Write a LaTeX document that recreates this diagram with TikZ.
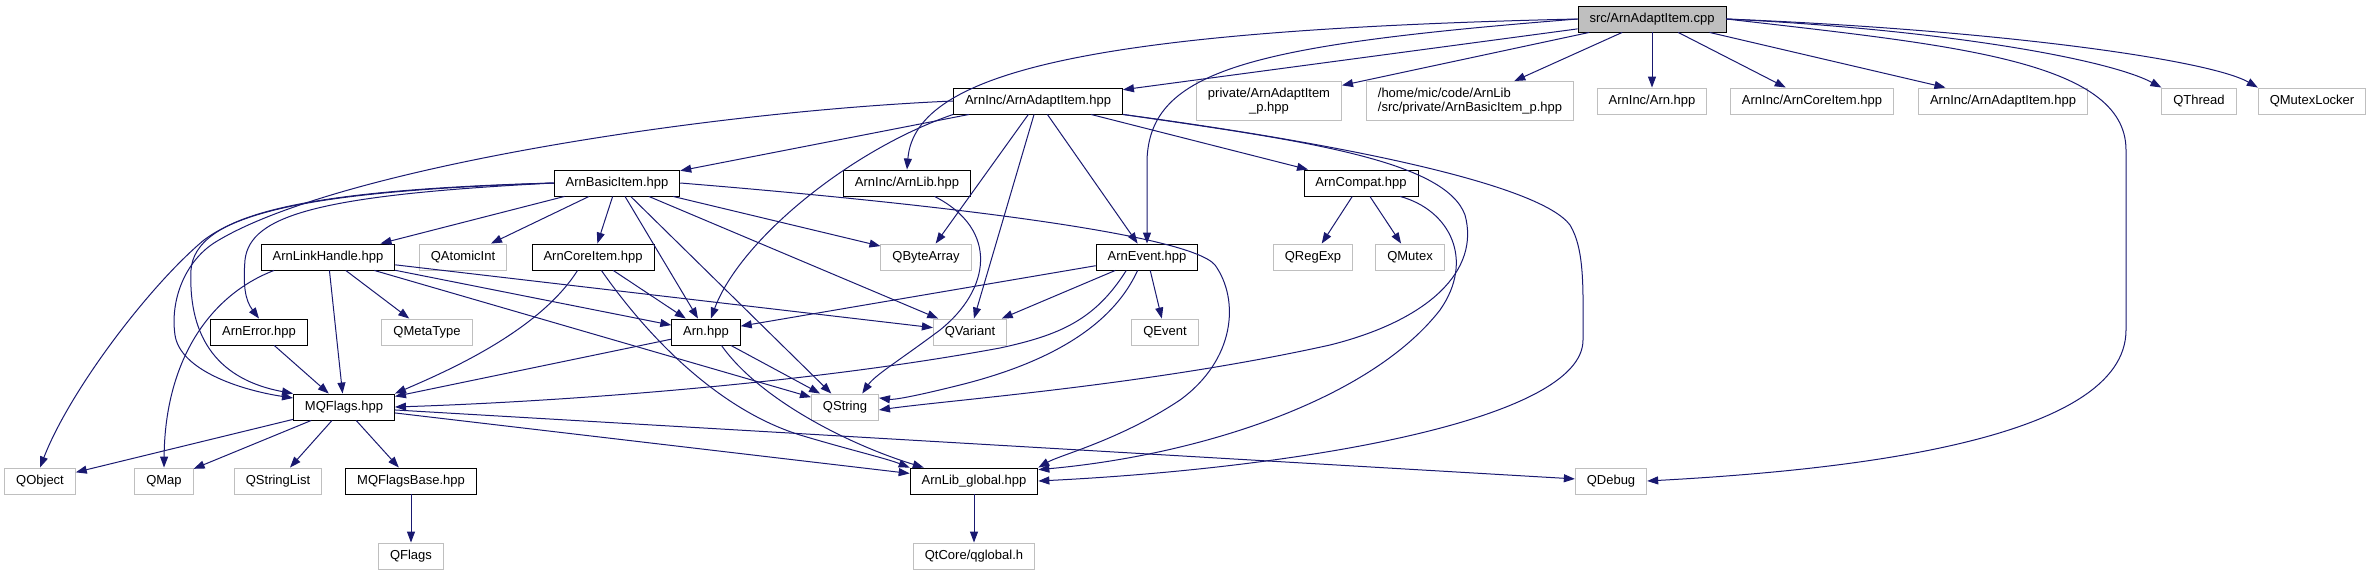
\documentclass[tikz,border=0pt]{standalone}
\usepackage{fontspec}
\setmainfont{Liberation Sans}
\usetikzlibrary{arrows.meta}
\definecolor{edgeblue}{HTML}{191970}
\definecolor{boxgray}{HTML}{BFBFBF}

\begin{document}
\begin{tikzpicture}[x=1pt,y=-1pt,>={Triangle[length=11pt,width=8pt]}]
  \tikzstyle{file}=[draw=black, line width=0.9pt, fill=white, minimum height=26pt, inner xsep=11.5pt, inner ysep=2pt, font=\fontsize{13}{14}\selectfont]
  \tikzstyle{ext}=[file, draw=boxgray]
  \tikzstyle{root}=[file, fill=boxgray]
  \tikzstyle{arrow}=[->, draw=edgeblue, line width=1pt]

  \useasboundingbox (0,0) rectangle (2371,575);

  \node[root] (cpp) at (1652,19) {src/ArnAdaptItem.cpp};

  \node[file] (adapt) at (1038,101) {ArnInc/ArnAdaptItem.hpp};
  \node[ext, align=center, minimum height=39pt] (privp) at (1269,101) {private/ArnAdaptItem\\\_p.hpp};
  \node[ext, align=left, minimum height=39pt] (homep) at (1470,101) {/home/mic/code/ArnLib\\/src/private/ArnBasicItem\_p.hpp};
  \node[ext] (incarn) at (1652,101) {ArnInc/Arn.hpp};
  \node[ext] (inccore) at (1812,101) {ArnInc/ArnCoreItem.hpp};
  \node[ext] (incadapt) at (2003,101) {ArnInc/ArnAdaptItem.hpp};
  \node[ext] (qthread) at (2199,101) {QThread};
  \node[ext] (qmutexlocker) at (2312,101) {QMutexLocker};

  \node[file] (basic) at (617,183) {ArnBasicItem.hpp};
  \node[file] (arnlib) at (907,183) {ArnInc/ArnLib.hpp};
  \node[file] (compat) at (1361,183) {ArnCompat.hpp};

  \node[file] (linkhandle) at (328,257) {ArnLinkHandle.hpp};
  \node[ext] (qatomicint) at (463,257) {QAtomicInt};
  \node[file] (coreitem) at (593,257) {ArnCoreItem.hpp};
  \node[ext] (qbytearray) at (926,257) {QByteArray};
  \node[file] (event) at (1147,257) {ArnEvent.hpp};
  \node[ext] (qregexp) at (1313,257) {QRegExp};
  \node[ext] (qmutex) at (1410,257) {QMutex};

  \node[file] (error) at (259,332) {ArnError.hpp};
  \node[ext] (qmetatype) at (427,332) {QMetaType};
  \node[file] (arn) at (706,332) {Arn.hpp};
  \node[ext] (qvariant) at (970,332) {QVariant};
  \node[ext] (qevent) at (1165,332) {QEvent};

  \node[file] (mqflags) at (344,407) {MQFlags.hpp};
  \node[ext] (qstring) at (845,407) {QString};

  \node[ext] (qobject) at (40,481) {QObject};
  \node[ext] (qmap) at (164,481) {QMap};
  \node[ext] (qstringlist) at (278,481) {QStringList};
  \node[file] (mqflagsbase) at (411,481) {MQFlagsBase.hpp};
  \node[file] (global) at (974,481) {ArnLib\_global.hpp};
  \node[ext] (qdebug) at (1611,481) {QDebug};

  \node[ext] (qflags) at (411,556) {QFlags};
  \node[ext] (qglobal) at (974,556) {QtCore/qglobal.h};

  \draw[arrow] (cpp) -- (adapt);
  \draw[arrow] (cpp) -- (privp);
  \draw[arrow] (cpp) -- (homep);
  \draw[arrow] (cpp) -- (incarn);
  \draw[arrow] (cpp) -- (inccore);
  \draw[arrow] (cpp) -- (incadapt);
  \draw[arrow] (cpp.east) .. controls (1950,30) and (2110,60) .. (qthread.north west);
  \draw[arrow] (cpp.east) .. controls (2000,30) and (2210,60) .. (qmutexlocker.north west);
  \draw[arrow] (cpp.east) .. controls (1950,45) and (2126,60) .. (2126,150) -- (2126,330) .. controls (2126,440) and (1850,470) .. (qdebug.east);
  \draw[arrow] (cpp.west) .. controls (1100,30) and (915,70) .. (arnlib.north);
  \draw[arrow] (cpp.west) .. controls (1250,45) and (1150,70) .. (1147,160) -- (event.north);

  \draw[arrow] (adapt) -- (basic);
  \draw[arrow] (adapt.west) .. controls (700,112) and (330,170) .. (214,243) .. controls (185,262) and (170,300) .. (175,335) .. controls (180,370) and (240,390) .. (mqflags.170);
  \draw[arrow] (adapt.south west) .. controls (850,150) and (740,240) .. (arn.70);
  \draw[arrow] (adapt) -- (qbytearray);
  \draw[arrow] (adapt) -- (qvariant);
  \draw[arrow] (adapt) -- (event);
  \draw[arrow] (adapt) -- (compat);
  \draw[arrow] (adapt.south east) .. controls (1300,140) and (1445,160) .. (1465,215) .. controls (1480,270) and (1430,320) .. (1330,345) .. controls (1150,385) and (950,400) .. (qstring.-5);
  \draw[arrow] (adapt.south east) .. controls (1350,145) and (1540,185) .. (1570,225) .. controls (1585,250) and (1583,290) .. (1583,340) .. controls (1583,420) and (1300,468) .. (global.east);

  \draw[arrow] (basic) -- (linkhandle);
  \draw[arrow] (basic) -- (qatomicint);
  \draw[arrow] (basic) -- (coreitem);
  \draw[arrow] (basic.west) .. controls (320,195) and (250,215) .. (245,260) .. controls (243,285) and (245,300) .. (error.north);
  \draw[arrow] (basic.west) .. controls (300,190) and (195,215) .. (191,270) .. controls (188,340) and (220,380) .. (mqflags.north west);
  \draw[arrow] (basic.west) .. controls (350,190) and (250,205) .. (204,240) .. controls (150,285) and (70,390) .. (qobject.north);
  \draw[arrow] (basic) -- (arn);
  \draw[arrow] (basic) -- (qstring);
  \draw[arrow] (basic) -- (qbytearray);
  \draw[arrow] (basic) -- (qvariant);
  \draw[arrow] (basic.east) .. controls (950,205) and (1190,235) .. (1215,265) .. controls (1240,300) and (1235,360) .. (1180,400) .. controls (1120,440) and (1060,455) .. (global.north east);

  \draw[arrow] (arnlib.-26) .. controls (1000,230) and (990,290) .. (940,330) .. controls (900,360) and (875,375) .. (qstring.38);

  \draw[arrow] (compat) -- (qregexp);
  \draw[arrow] (compat) -- (qmutex);
  \draw[arrow] (compat.-19) .. controls (1450,210) and (1475,260) .. (1440,310) .. controls (1370,400) and (1200,455) .. (global.10);

  \draw[arrow] (linkhandle.-166) .. controls (210,295) and (165,360) .. (qmap.north);
  \draw[arrow] (linkhandle) -- (mqflags);
  \draw[arrow] (linkhandle) -- (qmetatype);
  \draw[arrow] (linkhandle) -- (qstring);
  \draw[arrow] (linkhandle) -- (arn);
  \draw[arrow] (linkhandle) -- (qvariant);

  \draw[arrow] (coreitem.-139) .. controls (540,330) and (450,370) .. (mqflags.north east);
  \draw[arrow] (coreitem) -- (arn);
  \draw[arrow] (coreitem.-58) .. controls (650,340) and (720,410) .. (800,435) .. controls (850,450) and (885,458) .. (global.north west);

  \draw[arrow] (event) -- (arn);
  \draw[arrow] (event) -- (qvariant);
  \draw[arrow] (event) -- (qevent);
  \draw[arrow] (event.-147) .. controls (1095,320) and (1060,335) .. (1000,348) .. controls (800,385) and (550,402) .. (mqflags.east);
  \draw[arrow] (event.-125) .. controls (1115,320) and (1060,360) .. (960,385) .. controls (920,395) and (895,400) .. (qstring.15);

  \draw[arrow] (error) -- (mqflags);

  \draw[arrow] (arn) -- (mqflags);
  \draw[arrow] (arn) -- (qstring);
  \draw[arrow] (arn.-41) .. controls (760,400) and (850,445) .. (global.165);

  \draw[arrow] (mqflags) -- (qobject);
  \draw[arrow] (mqflags) -- (qmap);
  \draw[arrow] (mqflags) -- (qstringlist);
  \draw[arrow] (mqflags) -- (mqflagsbase);
  \draw[arrow] (mqflags) -- (global);
  \draw[arrow] (mqflags) -- (qdebug);

  \draw[arrow] (mqflagsbase) -- (qflags);
  \draw[arrow] (global) -- (qglobal);
\end{tikzpicture}
\end{document}
